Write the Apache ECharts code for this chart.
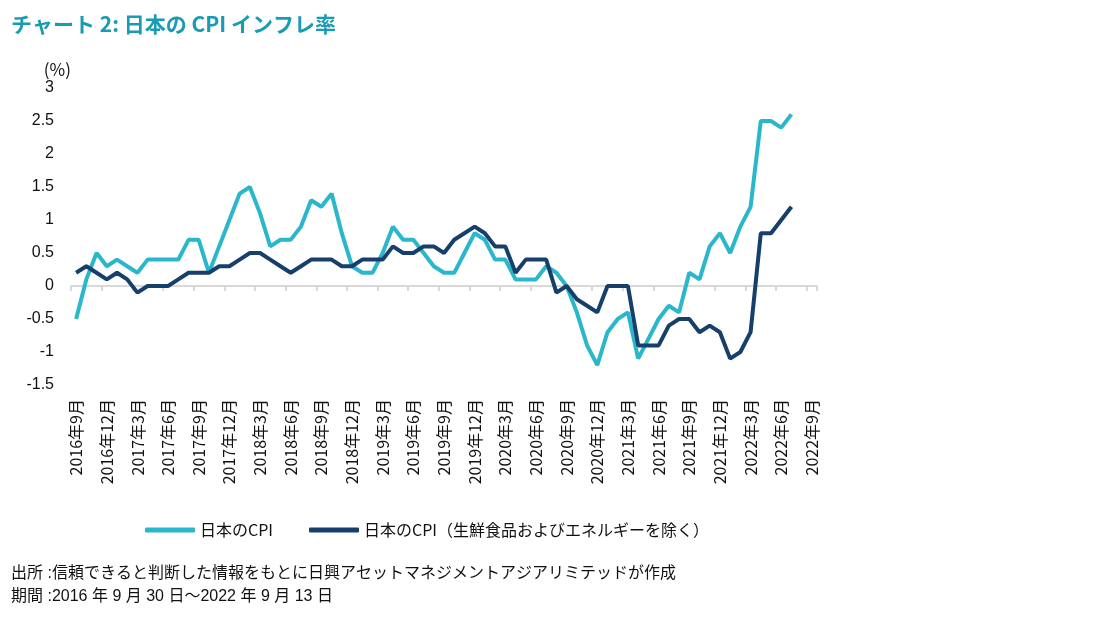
<!DOCTYPE html>
<html>
<head>
<meta charset="utf-8">
<script src="https://cdn.jsdelivr.net/npm/echarts@6/dist/echarts.min.js"></script>
<style>
html,body{margin:0;padding:0;background:#fff;}
#c{width:1117px;height:619px;}
</style>
</head>
<body>
<div id="c"></div>
<script>
const categories = [
 '2016年9月','2016年10月','2016年11月','2016年12月',
 '2017年1月','2017年2月','2017年3月','2017年4月','2017年5月','2017年6月','2017年7月','2017年8月','2017年9月','2017年10月','2017年11月','2017年12月',
 '2018年1月','2018年2月','2018年3月','2018年4月','2018年5月','2018年6月','2018年7月','2018年8月','2018年9月','2018年10月','2018年11月','2018年12月',
 '2019年1月','2019年2月','2019年3月','2019年4月','2019年5月','2019年6月','2019年7月','2019年8月','2019年9月','2019年10月','2019年11月','2019年12月',
 '2020年1月','2020年2月','2020年3月','2020年4月','2020年5月','2020年6月','2020年7月','2020年8月','2020年9月','2020年10月','2020年11月','2020年12月',
 '2021年1月','2021年2月','2021年3月','2021年4月','2021年5月','2021年6月','2021年7月','2021年8月','2021年9月','2021年10月','2021年11月','2021年12月',
 '2022年1月','2022年2月','2022年3月','2022年4月','2022年5月','2022年6月','2022年7月','2022年8月','2022年9月'
];
const cpiHeadline = [
 -0.5, 0.1, 0.5, 0.3,
 0.4, 0.3, 0.2, 0.4, 0.4, 0.4, 0.4, 0.7, 0.7, 0.2, 0.6, 1.0,
 1.4, 1.5, 1.1, 0.6, 0.7, 0.7, 0.9, 1.3, 1.2, 1.4, 0.8, 0.3,
 0.2, 0.2, 0.5, 0.9, 0.7, 0.7, 0.5, 0.3, 0.2, 0.2, 0.5, 0.8,
 0.7, 0.4, 0.4, 0.1, 0.1, 0.1, 0.3, 0.2, 0.0, -0.4, -0.9, -1.2,
 -0.7, -0.5, -0.4, -1.1, -0.8, -0.5, -0.3, -0.4, 0.2, 0.1, 0.6, 0.8,
 0.5, 0.9, 1.2, 2.5, 2.5, 2.4, 2.6
];
const cpiCoreCore = [
 0.2, 0.3, 0.2, 0.1,
 0.2, 0.1, -0.1, 0.0, 0.0, 0.0, 0.1, 0.2, 0.2, 0.2, 0.3, 0.3,
 0.4, 0.5, 0.5, 0.4, 0.3, 0.2, 0.3, 0.4, 0.4, 0.4, 0.3, 0.3,
 0.4, 0.4, 0.4, 0.6, 0.5, 0.5, 0.6, 0.6, 0.5, 0.7, 0.8, 0.9,
 0.8, 0.6, 0.6, 0.2, 0.4, 0.4, 0.4, -0.1, 0.0, -0.2, -0.3, -0.4,
 0.0, 0.0, 0.0, -0.9, -0.9, -0.9, -0.6, -0.5, -0.5, -0.7, -0.6, -0.7,
 -1.1, -1.0, -0.7, 0.8, 0.8, 1.0, 1.2
];
const seriesNames = ['日本のCPI', '日本のCPI（生鮮食品およびエネルギーを除く）'];
const yTicks = { min: -1.5, max: 3, interval: 0.5 };
const titleText = 'チャート 2: 日本の CPI インフレ率';
const sourceText = '出所 :信頼できると判断した情報をもとに日興アセットマネジメントアジアリミテッドが作成';
const periodText = '期間 :2016 年 9 月 30 日～2022 年 9 月 13 日';

const FONT = '"Noto Sans CJK JP", "Noto Sans", sans-serif';
const MIX = '"Liberation Sans", "Noto Sans CJK JP", sans-serif';
const chart = echarts.init(document.getElementById('c'), null, {renderer: 'canvas'});
chart.setOption({
  backgroundColor: '#ffffff',
  animation: false,
  textStyle: { fontFamily: FONT },
  title: [
    { text: titleText, left: 6, top: 9,
      textStyle: { fontFamily: FONT, fontSize: 21, fontWeight: 'bold', color: '#1a9bb4' } },
    { text: sourceText, left: 6, top: 561,
      textStyle: { fontFamily: MIX, fontSize: 16, fontWeight: 'normal', color: '#111' } },
    { text: periodText, left: 6, top: 584,
      textStyle: { fontFamily: MIX, fontSize: 16, fontWeight: 'normal', color: '#111' } }
  ],
  legend: {
    left: 140, top: 517,
    itemWidth: 50, itemHeight: 5, itemGap: 36,
    icon: 'roundRect',
    textStyle: { fontFamily: FONT, fontSize: 16, color: '#111' },
    data: seriesNames
  },
  grid: { left: 71, right: 300, top: 88, bottom: 234, containLabel: false, outerBoundsMode: 'none' },
  xAxis: [
    {
      type: 'category', data: categories, boundaryGap: true, position: 'bottom',
      axisLine: { show: false, onZero: false },
      axisTick: { show: false },
      splitLine: { show: false },
      axisLabel: { interval: 2, rotate: 90, margin: 14, fontSize: 16, color: '#111', fontFamily: FONT }
    },
    {
      type: 'category', data: categories, boundaryGap: true, position: 'bottom',
      axisLine: { show: true, onZero: true, lineStyle: { color: '#d9d9d9', width: 2 } },
      axisTick: { show: true, interval: 2, length: 5, lineStyle: { color: '#d9d9d9', width: 2 } },
      axisLabel: { show: false },
      splitLine: { show: false }
    }
  ],
  yAxis: {
    type: 'value', min: yTicks.min, max: yTicks.max, interval: yTicks.interval,
    name: '(%)', nameLocation: 'end', nameGap: 10,
    nameTextStyle: { fontFamily: FONT, fontSize: 17, color: '#111', align: 'right', padding: [0, 0, 0, 0] },
    axisLine: { show: false }, axisTick: { show: false }, splitLine: { show: false },
    axisLabel: { fontSize: 16, color: '#111', margin: 17, fontFamily: MIX }
  },
  series: [
    { name: seriesNames[0], type: 'line', xAxisIndex: 0, data: cpiHeadline, symbol: 'none',
      color: '#2bb7cb', lineStyle: { width: 4, color: '#2bb7cb' }, itemStyle: { color: '#2bb7cb' } },
    { name: seriesNames[1], type: 'line', xAxisIndex: 0, data: cpiCoreCore, symbol: 'none',
      color: '#173f6b', lineStyle: { width: 4, color: '#173f6b' }, itemStyle: { color: '#173f6b' } }
  ]
});
</script>
</body>
</html>
